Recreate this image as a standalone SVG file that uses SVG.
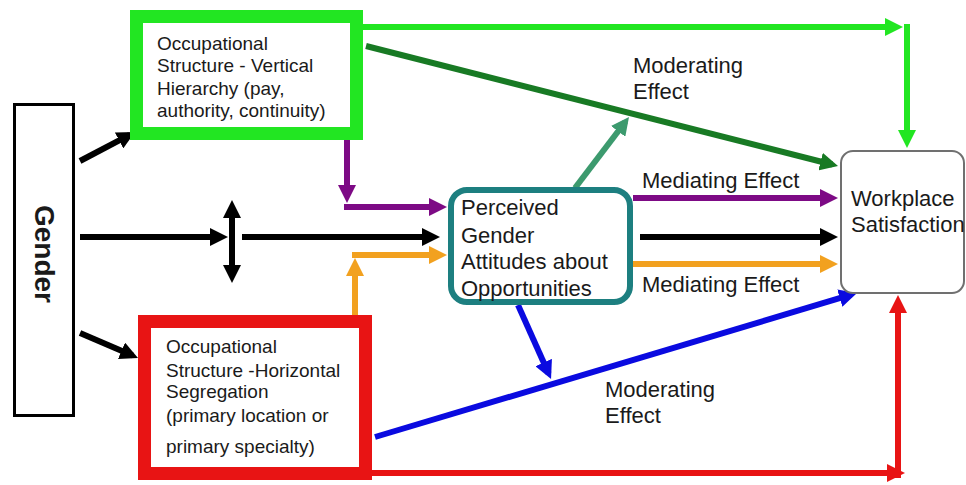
<svg xmlns="http://www.w3.org/2000/svg" width="966" height="485" viewBox="0 0 966 485">
<style>
.t{font-family:"Liberation Sans",Arial,sans-serif;fill:#1a1a1a}
.s19{font-size:19px}
.s22{font-size:22px}
.c{fill:none;stroke-linecap:butt;stroke-linejoin:miter}
</style>
<defs>
<marker id="mk" viewBox="0 0 18 18" markerUnits="userSpaceOnUse" markerWidth="18" markerHeight="18" refX="12" refY="9" orient="auto-start-reverse"><path d="M0,0 L18,9 L0,18 z" fill="#000"/></marker>
<marker id="mp" viewBox="0 0 18 18" markerUnits="userSpaceOnUse" markerWidth="18" markerHeight="18" refX="12" refY="9" orient="auto"><path d="M0,0 L18,9 L0,18 z" fill="#7d0a85"/></marker>
<marker id="mo" viewBox="0 0 18 18" markerUnits="userSpaceOnUse" markerWidth="18" markerHeight="18" refX="12" refY="9" orient="auto"><path d="M0,0 L18,9 L0,18 z" fill="#f2a11f"/></marker>
<marker id="ml" viewBox="0 0 18 18" markerUnits="userSpaceOnUse" markerWidth="18" markerHeight="18" refX="12" refY="9" orient="auto"><path d="M0,0 L18,9 L0,18 z" fill="#22e622"/></marker>
<marker id="md" viewBox="0 0 18 18" markerUnits="userSpaceOnUse" markerWidth="18" markerHeight="18" refX="12" refY="9" orient="auto"><path d="M0,0 L18,9 L0,18 z" fill="#187a24"/></marker>
<marker id="ms" viewBox="0 0 18 18" markerUnits="userSpaceOnUse" markerWidth="18" markerHeight="18" refX="12" refY="9" orient="auto"><path d="M0,0 L18,9 L0,18 z" fill="#3c9a6e"/></marker>
<marker id="mb" viewBox="0 0 18 18" markerUnits="userSpaceOnUse" markerWidth="18" markerHeight="18" refX="12" refY="9" orient="auto"><path d="M0,0 L18,9 L0,18 z" fill="#0a0ae0"/></marker>
<marker id="mr" viewBox="0 0 18 18" markerUnits="userSpaceOnUse" markerWidth="18" markerHeight="18" refX="12" refY="9" orient="auto"><path d="M0,0 L18,9 L0,18 z" fill="#e81414"/></marker>
</defs>
<rect width="966" height="485" fill="#fff"/>

<g id="connectors">
<path class="c" d="M80,161 L129.7,134.8" stroke="#000" stroke-width="6" marker-end="url(#mk)"/>
<path class="c" d="M80,333 L132.5,355.6" stroke="#000" stroke-width="6" marker-end="url(#mk)"/>
<path class="c" d="M80,237 H222" stroke="#000" stroke-width="6" marker-end="url(#mk)"/>
<path class="c" d="M232,206 V277" stroke="#000" stroke-width="6" marker-start="url(#mk)" marker-end="url(#mk)"/>
<path class="c" d="M242,237 H434" stroke="#000" stroke-width="6" marker-end="url(#mk)"/>
<path class="c" d="M347,140 V197" stroke="#7d0a85" stroke-width="6" marker-end="url(#mp)"/>
<path class="c" d="M344,207 H441" stroke="#7d0a85" stroke-width="6" marker-end="url(#mp)"/>
<path class="c" d="M355,315 V264" stroke="#f2a11f" stroke-width="6" marker-end="url(#mo)"/>
<path class="c" d="M352,255 H441" stroke="#f2a11f" stroke-width="6" marker-end="url(#mo)"/>
<path class="c" d="M363,27 H897" stroke="#22e622" stroke-width="6" marker-end="url(#ml)"/>
<path class="c" d="M907,24 V142" stroke="#22e622" stroke-width="6" marker-end="url(#ml)"/>
<path class="c" d="M366,46 L832.2,164.5" stroke="#187a24" stroke-width="6" marker-end="url(#md)"/>
<path class="c" d="M575,188 L625.4,121.8" stroke="#3c9a6e" stroke-width="6" marker-end="url(#ms)"/>
<path class="c" d="M633,198 H832" stroke="#7d0a85" stroke-width="6" marker-end="url(#mp)"/>
<path class="c" d="M640,237 H832" stroke="#000" stroke-width="6" marker-end="url(#mk)"/>
<path class="c" d="M633,264 H832" stroke="#f2a11f" stroke-width="6" marker-end="url(#mo)"/>
<path class="c" d="M518,305 L548.6,373.5" stroke="#0a0ae0" stroke-width="6" marker-end="url(#mb)"/>
<path class="c" d="M375,437 L851.3,294.7" stroke="#0a0ae0" stroke-width="6" marker-end="url(#mb)"/>
<path class="c" d="M372,473 H899" stroke="#e81414" stroke-width="6" marker-end="url(#mr)"/>
<path class="c" d="M898,478 V301" stroke="#e81414" stroke-width="6" marker-end="url(#mr)"/>
</g>

<g id="gender">
<rect x="14.5" y="104.5" width="59" height="311" fill="#fff" stroke="#000" stroke-width="3"/>
<text class="t" x="0" y="0" transform="translate(44,254) rotate(90)" text-anchor="middle" dominant-baseline="central" font-size="28" font-weight="bold" fill="#000">Gender</text>
</g>

<g id="vertical">
<rect x="136.5" y="16.5" width="220" height="117" fill="#fff" stroke="#22e622" stroke-width="13"/>
<text class="t s19" x="157" y="50">Occupational</text>
<text class="t s19" x="157" y="72">Structure - Vertical</text>
<text class="t s19" x="157" y="95">Hierarchy (pay,</text>
<text class="t s19" x="157" y="117">authority, continuity)</text>
</g>

<g id="horizontal">
<rect x="144.5" y="321.5" width="221" height="152" fill="#fff" stroke="#e81414" stroke-width="13"/>
<text class="t s19" x="166" y="353">Occupational</text>
<text class="t s19" x="166" y="377">Structure -Horizontal</text>
<text class="t s19" x="166" y="398">Segregation</text>
<text class="t s19" x="166" y="422">(primary location or</text>
<text class="t s19" x="166" y="453">primary specialty)</text>
</g>

<g id="perceived">
<rect x="451" y="190" width="179" height="112" rx="16" fill="#fff" stroke="#1d7f80" stroke-width="6"/>
<text class="t s22" x="461" y="215">Perceived</text>
<text class="t s22" x="461" y="243">Gender</text>
<text class="t s22" x="461" y="269">Attitudes about</text>
<text class="t s22" x="461" y="296">Opportunities</text>
</g>

<g id="workplace">
<rect x="841" y="151" width="123" height="142" rx="12" fill="#fff" stroke="#707070" stroke-width="2"/>
<text class="t s22" x="851" y="206">Workplace</text>
<text class="t s22" x="851" y="232">Satisfaction</text>
</g>

<g id="labels">
<text class="t s22" x="633" y="73">Moderating</text>
<text class="t s22" x="633" y="99">Effect</text>
<text class="t s22" x="642" y="188">Mediating Effect</text>
<text class="t s22" x="642" y="292">Mediating Effect</text>
<text class="t s22" x="605" y="397">Moderating</text>
<text class="t s22" x="605" y="423">Effect</text>
</g>
</svg>
